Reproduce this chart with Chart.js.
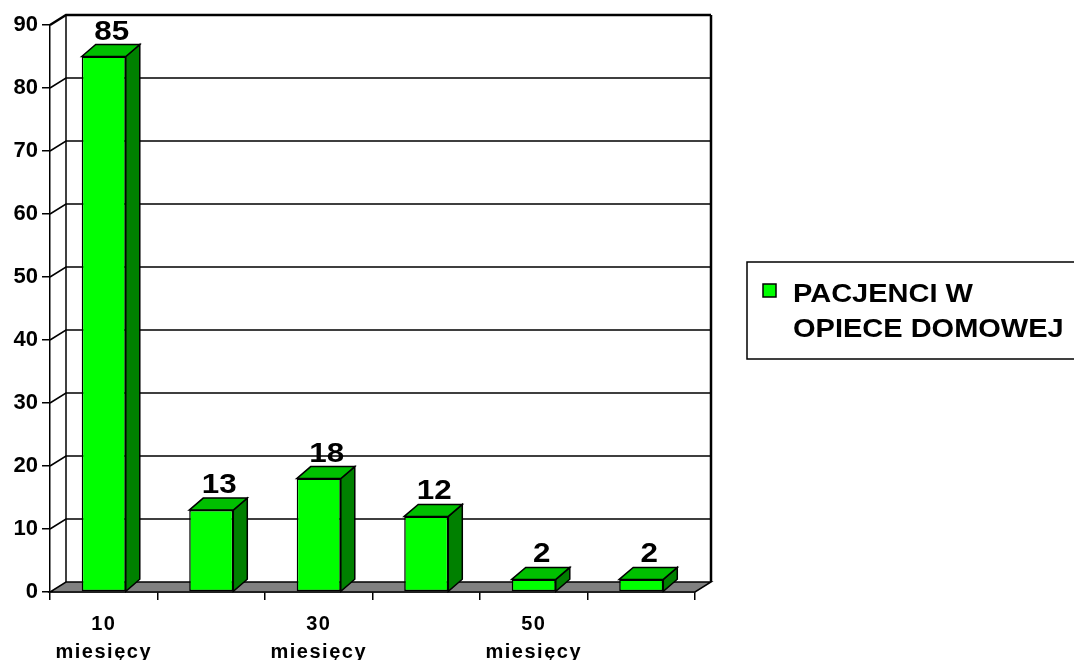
<!DOCTYPE html>
<html>
<head>
<meta charset="utf-8">
<script src="https://cdn.jsdelivr.net/npm/chart.js@4/dist/chart.umd.min.js"></script>
<style>
  html, body { margin: 0; padding: 0; background: #fff; }
  #wrap { width: 1074px; height: 660px; position: relative; }
</style>
</head>
<body>
<div id="wrap"><canvas id="chart" width="1074" height="660"></canvas></div>
<script>
// Okres opieki (miesiące) i liczba pacjentów
const categories = [
  ['10', 'miesięcy'], ['20', 'miesięcy'], ['30', 'miesięcy'],
  ['40', 'miesięcy'], ['50', 'miesięcy'], ['60', 'miesięcy']
];
const patients = [85, 13, 18, 12, 2, 2];
const seriesName = ['PACJENCI W', 'OPIECE DOMOWEJ'];
const yMin = 0, yMax = 90, yStep = 10;

const FONT = "'Liberation Sans', Arial, sans-serif";
const GREEN = '#00FF00', GREEN_TOP = '#00C000', GREEN_SIDE = '#008000';
const WALL = { dx: 16, dy: -10 };   // głębokość ścian i podłogi
const BAR = { dx: 14, dy: -12 };    // głębokość słupków

// Tekst rozciągnięty w poziomie (szeroki krój)
function wideText(ctx, text, x, y, sx, align) {
  ctx.save();
  ctx.translate(x, y);
  ctx.scale(sx, 1);
  ctx.textAlign = align;
  ctx.fillText(text, 0, 0);
  ctx.restore();
}

// Ściany, podłoga i linie siatki w rzucie ukośnym
const walls3d = {
  id: 'walls3d',
  beforeDatasetsDraw(chart) {
    const { ctx, chartArea: a, scales: { y } } = chart;
    ctx.save();
    ctx.strokeStyle = '#000';
    // podłoga
    ctx.beginPath();
    ctx.moveTo(a.left, a.bottom);
    ctx.lineTo(a.right, a.bottom);
    ctx.lineTo(a.right + WALL.dx, a.bottom + WALL.dy);
    ctx.lineTo(a.left + WALL.dx, a.bottom + WALL.dy);
    ctx.closePath();
    ctx.fillStyle = '#808080';
    ctx.fill();
    ctx.lineWidth = 1.5;
    ctx.stroke();
    // linie siatki: ściana boczna + tylna
    for (let v = yMin + yStep; v <= yMax; v += yStep) {
      const yp = y.getPixelForValue(v);
      ctx.beginPath();
      ctx.moveTo(a.left, yp);
      ctx.lineTo(a.left + WALL.dx, yp + WALL.dy);
      ctx.lineTo(a.right + WALL.dx, yp + WALL.dy);
      ctx.lineWidth = v === yMax ? 2.5 : 1.5;
      ctx.stroke();
    }
    // krawędzie ściany tylnej
    const top = y.getPixelForValue(yMax) + WALL.dy;
    const bot = a.bottom + WALL.dy;
    ctx.lineWidth = 1.5;
    ctx.beginPath();
    ctx.moveTo(a.left + WALL.dx, top);
    ctx.lineTo(a.left + WALL.dx, bot);
    ctx.stroke();
    ctx.lineWidth = 2.5;
    ctx.beginPath();
    ctx.moveTo(a.right + WALL.dx, top);
    ctx.lineTo(a.right + WALL.dx, bot);
    ctx.stroke();
    ctx.restore();
  },
  afterDatasetsDraw(chart) {
    const { ctx } = chart;
    const meta = chart.getDatasetMeta(0);
    ctx.save();
    ctx.strokeStyle = '#000';
    ctx.lineWidth = 1.5;
    meta.data.forEach((bar, i) => {
      const { x, y, base, width } = bar.getProps(['x', 'y', 'base', 'width'], true);
      const l = x - width / 2, r = x + width / 2;
      // ściana boczna
      ctx.beginPath();
      ctx.moveTo(r, y);
      ctx.lineTo(r + BAR.dx, y + BAR.dy);
      ctx.lineTo(r + BAR.dx, base + BAR.dy);
      ctx.lineTo(r, base);
      ctx.closePath();
      ctx.fillStyle = GREEN_SIDE;
      ctx.fill();
      ctx.stroke();
      // wierzch
      ctx.beginPath();
      ctx.moveTo(l, y);
      ctx.lineTo(l + BAR.dx, y + BAR.dy);
      ctx.lineTo(r + BAR.dx, y + BAR.dy);
      ctx.lineTo(r, y);
      ctx.closePath();
      ctx.fillStyle = GREEN_TOP;
      ctx.fill();
      ctx.stroke();
      // etykieta wartości
      ctx.fillStyle = '#000';
      ctx.font = 'bold 28px ' + FONT;
      ctx.textBaseline = 'alphabetic';
      wideText(ctx, String(patients[i]), x + BAR.dx / 2 + 1, y + BAR.dy - 5, 1.12, 'center');
    });
    ctx.restore();
  },
  afterDraw(chart) {
    // legenda
    const { ctx } = chart;
    ctx.save();
    ctx.strokeStyle = '#000';
    ctx.lineWidth = 1.5;
    ctx.strokeRect(747, 262, 340, 97);
    ctx.fillStyle = GREEN;
    ctx.fillRect(763, 284, 13, 13);
    ctx.strokeRect(763, 284, 13, 13);
    ctx.fillStyle = '#000';
    ctx.font = 'bold 25px ' + FONT;
    ctx.textBaseline = 'alphabetic';
    wideText(ctx, seriesName[0], 793, 302, 1.16, 'left');
    wideText(ctx, seriesName[1], 793, 337, 1.16, 'left');
    ctx.restore();
  }
};

new Chart(document.getElementById('chart'), {
  type: 'bar',
  data: {
    labels: categories,
    datasets: [{
      label: seriesName.join(' '),
      data: patients,
      backgroundColor: GREEN,
      borderColor: '#000',
      borderWidth: 1.5,
      borderSkipped: false,
      categoryPercentage: 1,
      barPercentage: 0.41
    }]
  },
  options: {
    responsive: false,
    animation: false,
    layout: { padding: { top: 25, right: 379, bottom: 0, left: 0 } },
    plugins: { legend: { display: false }, tooltip: { enabled: false } },
    scales: {
      x: {
        offset: true,
        afterFit(scale) {
          scale.height = 68;
          // podpisy kategorii z lekko rozstrzelonymi literami
          if (!scale._spaced) {
            const draw = scale.drawLabels.bind(scale);
            scale.drawLabels = function (area) {
              const ctx = this.ctx;
              ctx.save();
              ctx.letterSpacing = '1.5px';
              draw(area);
              ctx.restore();
            };
            scale._spaced = true;
          }
        },
        grid: { offset: true, drawOnChartArea: false, drawTicks: true, tickLength: 8, color: '#000', lineWidth: 1.5 },
        border: { display: true, color: '#000', width: 1.5 },
        ticks: {
          autoSkip: false,
          maxRotation: 0,
          padding: 10,
          color: '#000',
          font: { family: FONT, size: 20, weight: 'bold', lineHeight: 1.4 },
          callback(value, index) { return index % 2 === 0 ? this.getLabelForValue(value) : ''; }
        }
      },
      y: {
        min: yMin,
        max: yMax,
        afterFit(scale) { scale.width = 50; },
        grid: { drawOnChartArea: false, drawTicks: true, tickLength: 8, color: '#000', lineWidth: 1.5 },
        border: { display: true, color: '#000', width: 1.5 },
        ticks: {
          stepSize: yStep,
          padding: 4,
          color: '#000',
          font: { family: FONT, size: 22, weight: 'bold' }
        }
      }
    }
  },
  plugins: [walls3d]
});
</script>
</body>
</html>
